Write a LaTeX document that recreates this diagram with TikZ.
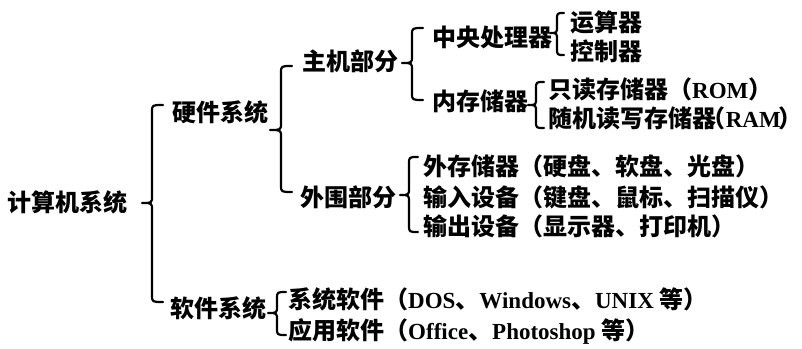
\documentclass[tikz,border=0pt]{standalone}
\usepackage{fontspec}
\setmainfont{Liberation Serif}
\newfontfamily\cjk{Noto Sans CJK SC}
\newcommand\en[1]{{\rmfamily\fontsize{23}{23}\selectfont\bfseries #1}}
\newcommand\mybrace[6]{\draw[brc] (#6,#2) .. controls (#1,#2) .. (#1,{#2+7}) -- (#1,{#3-7}) .. controls (#1,#3) .. (#5,#3) .. controls (#1,#3) .. (#1,{#3+7}) -- (#1,{#4-7}) .. controls (#1,#4) .. (#6,#4);}
\tikzset{
  lbl/.style={anchor=base west, inner sep=0pt, font=\fontsize{24}{24}\selectfont\cjk\bfseries},
  brc/.style={line width=2.2pt, line cap=round, line join=round}
}
\begin{document}
\begin{tikzpicture}[x=1pt,y=-1pt]
\useasboundingbox (0,0) rectangle (802,348);
% texts (baseline = centre + 9)
\node[lbl] (root) at (7,211) {计算机系统};
\node[lbl] (hw) at (172,121) {硬件系统};
\node[lbl] (sw) at (170,317) {软件系统};
\node[lbl] (host) at (302,70) {主机部分};
\node[lbl] (peri) at (300,206) {外围部分};
\node[lbl] (cpu) at (432,46) {中央处理器};
\node[lbl] (mem) at (432,110) {内存储器};
\node[lbl] (alu) at (570,31) {运算器};
\node[lbl] (ctl) at (570,60) {控制器};
\node[lbl] (rom) at (548,98) {只读存储器（\en{ROM}）};
\node[lbl] (ram) at (548,127) {随机读写存储器\hspace{-0.6em}（\en{RAM}\hspace{-0.1em}）\hspace{-0.5em}};
\node[lbl] (ext) at (423,175) {外存储器（硬盘、软盘、光盘）};
\node[lbl] (inp) at (423,206) {输入设备（键盘、鼠标、扫描仪）};
\node[lbl] (out) at (423,235) {输出设备（显示器、打印机）};
\node[lbl] (sys) at (288,308) {系统软件（\en{DOS}、\en{Windows}、\en{UNIX} 等）};
\node[lbl] (app) at (288,339) {应用软件（\en{Office}、\en{Photoshop} 等）};
% braces: x, top, mid, bottom, tip x, hook x
\mybrace{152}{105}{203}{302}{142}{163}
\mybrace{281}{66}{130}{192}{270}{292}
\mybrace{412}{28}{63}{100}{402}{423}
\mybrace{557}{13}{33}{55}{550}{564}
\mybrace{536}{82}{105}{128}{528}{544}
\mybrace{409}{157}{195}{232}{400}{418}
\mybrace{277}{292}{313}{335}{268}{286}
\end{tikzpicture}
\end{document}
